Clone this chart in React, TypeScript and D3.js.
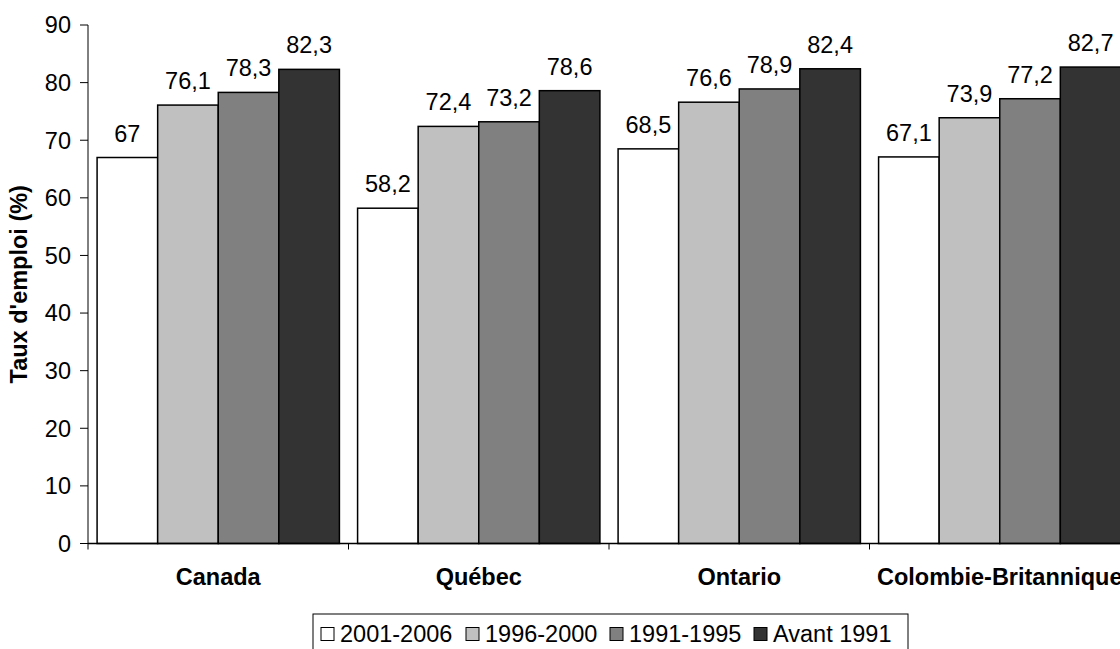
import React from "react";
import * as d3 from "d3";

const categories = ["Canada", "Québec", "Ontario", "Colombie-Britannique"];
const seriesNames = ["2001-2006", "1996-2000", "1991-1995", "Avant 1991"];
const s2001_2006 = [67, 58.2, 68.5, 67.1];
const s1996_2000 = [76.1, 72.4, 76.6, 73.9];
const s1991_1995 = [78.3, 73.2, 78.9, 77.2];
const sAvant1991 = [82.3, 78.6, 82.4, 82.7];
const yTicks = [0, 10, 20, 30, 40, 50, 60, 70, 80, 90];
const colors = ["#ffffff", "#c0c0c0", "#808080", "#333333"];

const W = 1120;
const H = 649;
const FONT = "Liberation Sans, Arial, sans-serif";
const FS = 23.5;

export default function App() {
  const series = [s2001_2006, s1996_2000, s1991_1995, sAvant1991];
  const x0 = 88;
  const x1 = 88 + 260.5 * 4;
  const y = d3.scaleLinear().domain([0, 90]).range([543.5, 25]);
  const xBand = d3.scaleBand().domain(categories).range([x0, x1]).paddingInner(0).paddingOuter(0);
  const xInner = d3
    .scaleBand()
    .domain(seriesNames)
    .range([0, xBand.bandwidth()])
    .paddingOuter(0.15)
    .paddingInner(0);
  const fmt = (v: number) => String(v).replace(".", ",");

  const legendX = [321, 466, 610, 754];

  return (
    <svg
      width={W}
      height={H}
      style={{ position: "absolute", left: 0, top: 0, background: "#fff" }}
      fontFamily={FONT}
    >
      <rect x={0} y={0} width={W} height={H} fill="#fff" />
      {/* bars */}
      {categories.map((c, ci) => (
        <g key={c} transform={`translate(${xBand(c)},0)`}>
          {series.map((s, si) => {
            const bx = xInner(seriesNames[si]) as number;
            const bw = xInner.bandwidth();
            return (
              <g key={si}>
                <rect
                  x={bx}
                  y={y(s[ci])}
                  width={bw}
                  height={y(0) - y(s[ci])}
                  fill={colors[si]}
                  stroke="#000"
                  strokeWidth={1.5}
                />
                <text
                  x={bx + bw / 2}
                  y={y(s[ci]) - 16}
                  textAnchor="middle"
                  fontSize={FS}
                  fill="#000"
                >
                  {fmt(s[ci])}
                </text>
              </g>
            );
          })}
          <text
            x={xBand.bandwidth() / 2}
            y={585}
            textAnchor="middle"
            fontSize={FS}
            fontWeight="bold"
          >
            {c}
          </text>
        </g>
      ))}
      {/* y axis */}
      <line x1={x0} x2={x0} y1={y(90)} y2={y(0)} stroke="#000" strokeWidth={1} />
      {yTicks.map((t) => (
        <g key={t}>
          <line x1={x0 - 8} x2={x0} y1={y(t)} y2={y(t)} stroke="#000" strokeWidth={1} />
          <text x={71} y={y(t) + 8.4} textAnchor="end" fontSize={FS}>
            {t}
          </text>
        </g>
      ))}
      {/* x axis */}
      <line x1={x0} x2={x1} y1={y(0)} y2={y(0)} stroke="#000" strokeWidth={1.5} />
      {categories.map((c) => (
        <line
          key={c}
          x1={xBand(c) as number}
          x2={xBand(c) as number}
          y1={y(0)}
          y2={y(0) + 6}
          stroke="#000"
          strokeWidth={1}
        />
      ))}
      {/* y title */}
      <text
        transform={`translate(26.5,${(y(0) + y(90)) / 2}) rotate(-90)`}
        textAnchor="middle"
        fontSize={FS}
        fontWeight="bold"
      >
        Taux d'emploi (%)
      </text>
      {/* legend */}
      <rect x={313} y={614} width={595} height={50} fill="#fff" stroke="#000" strokeWidth={1} />
      {seriesNames.map((n, i) => (
        <g key={n}>
          <rect
            x={legendX[i]}
            y={627.5}
            width={13}
            height={13}
            fill={colors[i]}
            stroke="#000"
            strokeWidth={1}
          />
          <text x={legendX[i] + 19} y={642} fontSize={FS}>
            {n}
          </text>
        </g>
      ))}
    </svg>
  );
}
